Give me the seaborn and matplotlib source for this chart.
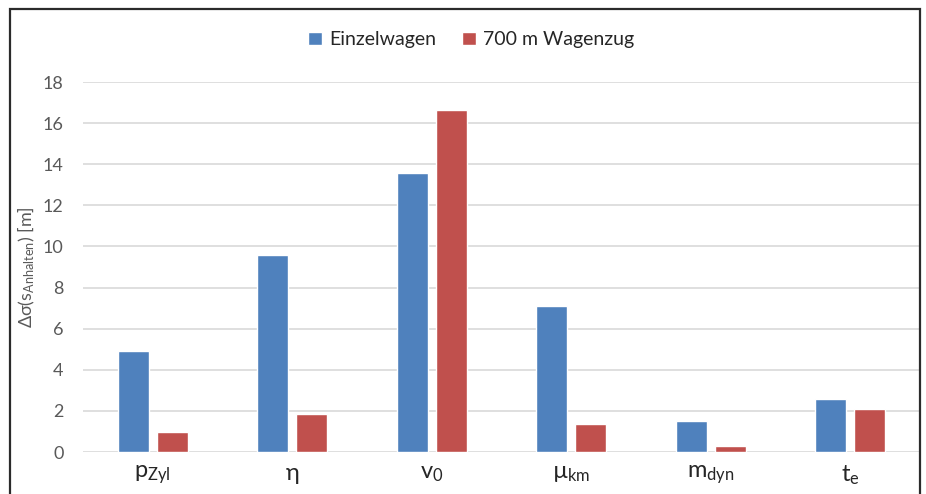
import matplotlib
matplotlib.use("Agg")
import matplotlib.pyplot as plt
import seaborn as sns
import pandas as pd
from matplotlib.patches import Rectangle

# Parameters (tick labels) and the two train configurations
params = [r"p$_\mathregular{Zyl}$", r"η", r"v$_\mathregular{0}$", r"µ$_\mathregular{km}$",
          r"m$_\mathregular{dyn}$", r"t$_\mathregular{e}$"]
series = ["Einzelwagen", "700 m Wagenzug"]
einzelwagen = [4.9, 9.6, 13.55, 7.1, 1.5, 2.6]
wagenzug = [0.95, 1.85, 16.65, 1.35, 0.3, 2.1]
colors = ["#4f81bd", "#c0504d"]

df = pd.DataFrame({
    "Parameter": params * 2,
    "Serie": [series[0]] * len(params) + [series[1]] * len(params),
    "Wert": einzelwagen + wagenzug,
})

sns.set_theme(style="white")
plt.rcParams["font.family"] = ["Lato", "DejaVu Sans"]
plt.rcParams["mathtext.fontset"] = "custom"
plt.rcParams["mathtext.rm"] = "Lato"
plt.rcParams["mathtext.it"] = "Lato"

text_col = "#595959"
fig = plt.figure(figsize=(9.26, 4.94), dpi=100)
ax = fig.add_axes([83 / 926, 42 / 494, 837 / 926, 370 / 494])

sns.barplot(data=df, x="Parameter", y="Wert", hue="Serie", palette=colors,
            width=0.56, gap=0.2, ax=ax, saturation=1, legend=True)

ax.set_ylim(0, 18)
ax.set_yticks(range(0, 19, 2))
ax.yaxis.grid(True, color="#d9d9d9", linewidth=1.2)
ax.set_axisbelow(True)
for s in ax.spines.values():
    s.set_visible(False)
ax.tick_params(axis="y", colors=text_col, labelsize=13, length=0, pad=14)
ax.tick_params(axis="x", colors="#262626", labelsize=17, length=0, pad=8)
for lbl in ax.get_yticklabels():
    lbl.set_color(text_col)
ax.set_xlabel("")
ax.set_ylabel(r"Δσ(s$_\mathregular{Anhalten}$) [m]", color=text_col, fontsize=13, labelpad=4)

handles, labels = ax.get_legend_handles_labels()
ax.legend(handles, labels, loc="center", bbox_to_anchor=(0.464, 1 + 42 / 370),
          ncol=2, frameon=False, fontsize=14, handlelength=0.7, handleheight=0.7,
          handletextpad=0.4, columnspacing=1.3, labelcolor="#262626")

# Outer frame around the chart area (open at the bottom)
fig.add_artist(Rectangle((10 / 926, -0.05), 910 / 926, 1.05 - 9 / 494,
                         transform=fig.transFigure, fill=False,
                         edgecolor="#2b2b2b", linewidth=1.6, clip_on=False))

fig.savefig("out.png", dpi=100)
